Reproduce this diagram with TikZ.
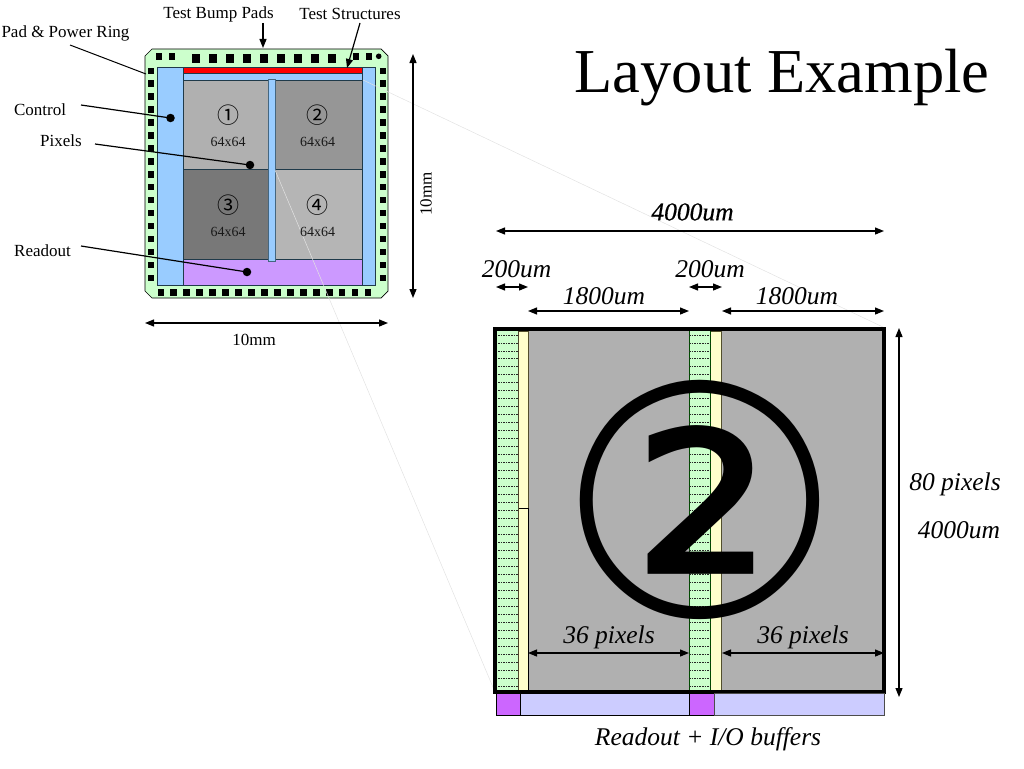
\documentclass[tikz,border=0pt]{standalone}
\usepackage{fontspec}
\setmainfont{Liberation Serif}
\newfontfamily\symfont{Noto Sans CJK JP}
\newfontfamily\bigsym{DejaVu Sans}
\usetikzlibrary{arrows.meta}
\definecolor{chipgreen}{HTML}{CCFFCC}
\definecolor{ctrlblue}{HTML}{99CCFF}
\definecolor{roviolet}{HTML}{CC99FF}
\definecolor{outline}{HTML}{1F3A4A}
\definecolor{creamy}{HTML}{FFFFCC}
\definecolor{buflav}{HTML}{CCCCFF}
\definecolor{bufpurple}{HTML}{CC66FF}
\definecolor{faint}{HTML}{E2E2E2}
\definecolor{detailgray}{HTML}{B0B0B0}
\tikzset{
  x=1pt,y=-1pt,
  block/.style={draw=outline,line width=0.9pt},
  padsq/.style={fill=black,draw=none},
  small/.style={font=\fontsize{17}{19}\selectfont,inner sep=0pt,text=black},
  pxlabel/.style={font=\fontsize{14}{16}\selectfont,inner sep=0pt,text=black!90},
  circnum/.style={font=\symfont\fontsize{22}{24}\selectfont,inner sep=0pt,text=black},
  itlabel/.style={font=\fontsize{25.5}{28}\selectfont\itshape,inner sep=0pt},
  dim/.style={line width=1.2pt,{Triangle[length=9pt,width=7pt]}-{Triangle[length=9pt,width=7pt]}},
  leader/.style={line width=1.2pt},
  pointer/.style={line width=1.2pt,-{Triangle[length=9pt,width=7pt]}},
  spot/.style={circle,fill=black,inner sep=0pt,minimum size=8.5pt},
  hatch/.style={line width=0.9pt,black!85,dash pattern=on 1.6pt off 1pt},
}
\begin{document}
\begin{tikzpicture}
\useasboundingbox (0,0) rectangle (1024,768);
% chip
\draw[black,line width=0.7pt,fill=chipgreen] (152,49) -- (381,49) -- (388,56) -- (388,291) -- (381,298) -- (152,298) -- (145,291) -- (145,56) -- cycle;
\draw[block,fill=ctrlblue] (157.5,67) rectangle (183.5,285);
\draw[block,fill=ctrlblue] (362.5,67) rectangle (375.5,285);
\draw[block,fill=ctrlblue] (183.5,73) rectangle (362.5,80);
\draw[draw=outline,line width=0.9pt,fill=red] (183.5,67) rectangle (362.5,73.5);
\draw[block,fill=detailgray] (183.5,80) rectangle (268.5,169);
\draw[block,fill=black!41] (275,80) rectangle (362.5,169);
\draw[block,fill=black!53] (183.5,169) rectangle (268.5,259);
\draw[block,fill=black!29] (275,169) rectangle (362.5,259);
\draw[block,fill=roviolet] (183.5,259) rectangle (362.5,285);
\draw[draw=outline!70!ctrlblue,line width=0.6pt,fill=ctrlblue] (268.5,79.5) rectangle (275,261);
% pads
\foreach \x in {159,172,356,369}{\fill[padsq] (\x-3,53.5) rectangle (\x+3,59.5);}
\fill[black] (378.7,56.3) circle (2.8);
\foreach \k in {0,...,8}{\fill[padsq] (196.3+17*\k-4,54.5) rectangle (196.3+17*\k+4,62.5);}
\foreach \k in {0,...,16}{
  \fill[padsq] (151-3.2,70.7+12.95*\k-3.2) rectangle (151+3.2,70.7+12.95*\k+3.2);
  \fill[padsq] (382.7-3.2,70.7+12.95*\k-3.2) rectangle (382.7+3.2,70.7+12.95*\k+3.2);
  \fill[padsq] (160.7+12.97*\k-3.2,292.3-3.2) rectangle (160.7+12.97*\k+3.2,292.3+3.2);
}
% faint projection lines
\coordinate (pa) at (363,80); \coordinate (pb) at (885,328);
\coordinate (pc) at (275,170); \coordinate (pd) at (495,692);
\draw[faint,line width=0.5pt] (pa) -- (pb);
\draw[faint,line width=0.5pt] (pc) -- (pd);
% chip texts
\node[circnum] (n1) at (228,115.5) {①};
\node[circnum] (n2) at (317.5,115.5) {②};
\node[circnum] (n3) at (228,205) {③};
\node[circnum] (n4) at (317.5,205) {④};
\node[pxlabel] (s1) at (228,141.5) {64x64};
\node[pxlabel] (s2) at (317.5,141.5) {64x64};
\node[pxlabel] (s3) at (228,231.5) {64x64};
\node[pxlabel] (s4) at (317.5,231.5) {64x64};
\node[small] (lbump) at (218.5,14) {Test Bump Pads};
\node[small] (lstruct) at (350,14) {Test Structures};
\node[small] (lpad) at (65.5,33.5) {Pad \& Power Ring};
\node[small] (lctrl) at (40,110) {Control};
\node[small] (lpix) at (61,141) {Pixels};
\node[small] (lread) at (42.5,251) {Readout};
\node[small] (l10h) at (254,340) {10mm};
\node[small,rotate=90] (l10v) at (426,194) {10mm};
\node[spot] (dctrl) at (170.5,118) {};
\node[spot] (dpix) at (250,165) {};
\node[spot] (dread) at (247,272) {};
\coordinate (a1) at (81,105); \coordinate (a2) at (95,144); \coordinate (a3) at (81,246);
\coordinate (a4) at (70,45); \coordinate (a5) at (146,74);
\draw[leader] (a1) -- (dctrl.center);
\draw[leader] (a2) -- (dpix.center);
\draw[leader] (a3) -- (dread.center);
\draw[line width=1pt] (a4) -- (a5);
\coordinate (b1) at (263,23); \coordinate (b2) at (263,48);
\coordinate (b3) at (360,23); \coordinate (b4) at (347,68);
\draw[pointer] (b1) -- (b2);
\draw[pointer] (b3) -- (b4);
\coordinate (c1) at (413,54); \coordinate (c2) at (413,298);
\coordinate (c3) at (145,323); \coordinate (c4) at (388,323);
\draw[dim] (c1) -- (c2);
\draw[dim] (c3) -- (c4);
% title
\node[font=\fontsize{62.5}{66}\selectfont,inner sep=0pt] (title) at (782,78) {Layout Example};
% detail
\fill[detailgray] (495,329) rectangle (884,692);
\fill[chipgreen] (497,331) rectangle (518,690);
\fill[chipgreen] (689,331) rectangle (710,690);
\draw[draw=black!55!olive,line width=0.5pt,fill=creamy] (518,331) rectangle (528,690);
\draw[draw=black!55!olive,line width=0.5pt,fill=creamy] (710,331) rectangle (721,690);
\draw[black,line width=0.8pt] (518,508) -- (528,508) -- (528,690);
\draw[black!60!olive,line width=0.7pt] (518,331) -- (518,690);
\draw[black!70!green,line width=0.7pt] (689,331) -- (689,690);
\draw[black!70!green,line width=0.7pt] (710,331) -- (710,690);
\foreach \k in {0,...,44}{
  \draw[hatch] (498,335+7.98*\k) -- (518,335+7.98*\k);
  \draw[hatch] (689,335+7.98*\k) -- (710,335+7.98*\k);
}
\draw[black,line width=3.6pt] (495,329) rectangle (884,692);
\draw[line width=1pt,draw=black,fill=bufpurple] (496,693) rectangle (520,715);
\draw[line width=1pt,draw=black,fill=buflav] (520,693) rectangle (689,715);
\draw[line width=1pt,draw=black,fill=bufpurple] (689,693) rectangle (714,715);
\draw[line width=0.6pt,draw=black!70,fill=buflav] (714,693) rectangle (884,715);
\node[font=\bigsym\fontsize{320}{330}\selectfont,inner sep=0pt] (big2) at (700,500) {②};
\node[itlabel,font=\fontsize{25.5}{28}\selectfont\itshape\addfontfeature{FakeBold=0.5}] (d4000) at (692.5,212) {4000um};
\node[itlabel] (d200a) at (516.5,269) {200um};
\node[itlabel] (d1800a) at (604,296) {1800um};
\node[itlabel] (d200b) at (710,269) {200um};
\node[itlabel] (d1800b) at (797,296) {1800um};
\node[itlabel] (p36a) at (609,637.5) {36 pixels};
\node[itlabel] (p36b) at (803,637.5) {36 pixels};
\node[itlabel] (p80) at (955,484) {80 pixels};
\node[itlabel] (v4000) at (959,530) {4000um};
\node[itlabel] (rbuf) at (708,739) {Readout + I/O buffers};
\coordinate (e1) at (496,231); \coordinate (e2) at (884,231);
\coordinate (e3) at (496,287); \coordinate (e4) at (528,287);
\coordinate (e5) at (528,311); \coordinate (e6) at (689,311);
\coordinate (e7) at (689,287); \coordinate (e8) at (722,287);
\coordinate (e9) at (722,311); \coordinate (e10) at (884,311);
\coordinate (e11) at (528,653); \coordinate (e12) at (689,653);
\coordinate (e13) at (722,653); \coordinate (e14) at (884,653);
\coordinate (e15) at (899,328); \coordinate (e16) at (899,697);
\draw[dim] (e1) -- (e2);
\draw[dim] (e3) -- (e4);
\draw[dim] (e5) -- (e6);
\draw[dim] (e7) -- (e8);
\draw[dim] (e9) -- (e10);
\draw[dim] (e11) -- (e12);
\draw[dim] (e13) -- (e14);
\draw[dim] (e15) -- (e16);
\end{tikzpicture}
\end{document}
